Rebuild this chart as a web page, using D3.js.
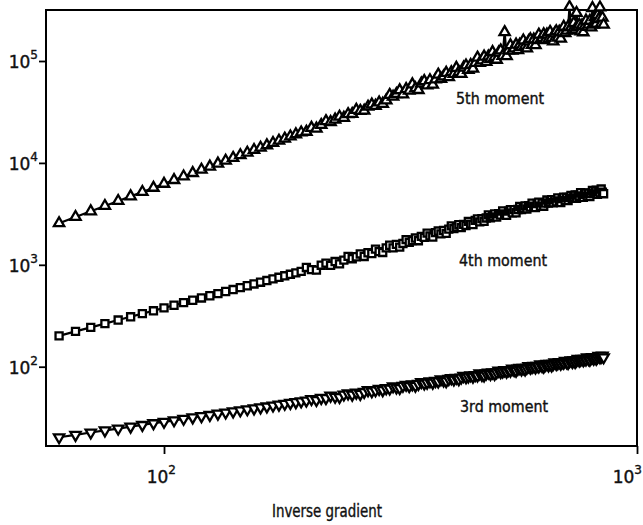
<!DOCTYPE html>
<html>
<head>
<meta charset="utf-8">
<script src="https://cdn.jsdelivr.net/npm/d3@7"></script>
<style>
  html, body { margin: 0; padding: 0; background: #fff; }
  #chart { width: 643px; height: 525px; overflow: hidden; }
  text { font-family: "DejaVu Sans", sans-serif; fill: #111; stroke: #111; stroke-width: 0.4px; }
</style>
</head>
<body>
<div id="chart"></div>
<script>
// inverse gradient (x), step 5 from 60 to 850
const inverseGradient = [
  60, 65, 70, 75, 80, 85, 90, 95, 100, 105, 110, 115, 120, 125, 130, 135, 140, 145, 150, 155,
  160, 165, 170, 175, 180, 185, 190, 195, 200, 205, 210, 215, 220, 225, 230, 235, 240, 245, 250, 255,
  260, 265, 270, 275, 280, 285, 290, 295, 300, 305, 310, 315, 320, 325, 330, 335, 340, 345, 350, 355,
  360, 365, 370, 375, 380, 385, 390, 395, 400, 405, 410, 415, 420, 425, 430, 435, 440, 445, 450, 455,
  460, 465, 470, 475, 480, 485, 490, 495, 500, 505, 510, 515, 520, 525, 530, 535, 540, 545, 550, 555,
  560, 565, 570, 575, 580, 585, 590, 595, 600, 605, 610, 615, 620, 625, 630, 635, 640, 645, 650, 655,
  660, 665, 670, 675, 680, 685, 690, 695, 700, 705, 710, 715, 720, 725, 730, 735, 740, 745, 750, 755,
  760, 765, 770, 775, 780, 785, 790, 795, 800, 805, 810, 815, 820, 825, 830, 835, 840, 845, 850
];

const thirdMoment = [
  20.3, 21.4, 22.6, 23.7, 24.7, 25.8, 26.8, 27.9, 28.8, 29.8,
  30.8, 31.8, 32.7, 33.6, 34.6, 35.5, 36.4, 37.3, 38.2, 39.0,
  39.9, 40.7, 41.6, 42.4, 43.3, 44.1, 44.9, 45.7,
  46.5, 48.2, 47.1, 49.4, 49.2, 52.0, 50.7, 50.4, 53.3, 54.6,
  53.2, 55.6, 54.1, 56.5, 58.9, 57.4, 58.7, 60.6, 58.9, 61.5,
  61.0, 64.2, 62.4, 61.8, 65.0, 66.4, 64.5, 67.1, 65.1, 67.8,
  70.6, 68.4, 69.8, 71.9, 69.7, 72.5, 71.7, 75.3, 73.1, 72.2,
  75.8, 77.2, 74.8, 77.8, 75.3, 78.3, 81.3, 78.7, 80.2, 82.4,
  79.8, 82.9, 81.9, 85.8, 83.1, 82.0, 86.0, 87.5, 84.7, 87.9,
  85.0, 88.2, 91.5, 88.5, 90.0, 92.4, 89.4, 92.7, 91.4, 95.7,
  92.6, 91.3, 95.6, 97.2, 94.0, 97.4, 94.1, 97.6, 101.1, 97.7,
  99.3, 101.9, 98.4, 102.0, 100.6, 105.2, 101.7, 100.2, 104.8, 106.5,
  102.8, 106.6, 102.9, 106.6, 110.4, 106.6, 108.3, 111.0, 107.2, 111.0,
  109.4, 114.3, 110.4, 108.7, 113.7, 115.5, 111.4, 115.3, 111.4, 115.3,
  119.3, 115.2, 116.9, 119.7, 115.6, 119.7, 117.8, 123.2, 118.9, 117.0,
  122.3, 124.0, 119.8, 123.9, 119.5, 123.7, 127.9, 123.6, 125.3, 128.3,
  123.8
];

const fourthMoment = [
  201, 222, 243, 265, 287, 309, 332, 354, 378, 401,
  425, 449, 473, 497, 522, 547, 572, 598, 623, 649,
  675, 701, 727, 754, 780, 807, 834, 861,
  942, 898, 887, 991, 1040, 987, 1077, 1020, 1113, 1211,
  1148, 1200, 1278, 1208, 1313, 1291, 1427, 1348, 1322, 1465,
  1556, 1466, 1589, 1493, 1620, 1767, 1664, 1730, 1832, 1723,
  1899, 1857, 2044, 1923, 1875, 2070, 2144, 2011, 2171, 2033,
  2238, 2409, 2262, 2342, 2473, 2317, 2496, 2433, 2669, 2502,
  2479, 2727, 2818, 2636, 2838, 2674, 2882, 3094, 2897, 2994,
  3153, 2946, 3168, 3081, 3373, 3155, 3061, 3362, 3466, 3236,
  3478, 3241, 3487, 3737, 3493, 3603, 3786, 3532, 3794, 3683,
  4024, 3759, 3643, 3992, 4112, 3764, 4038, 3758, 4037, 4320,
  4033, 4154, 4361, 4063, 4357, 4147, 4526, 4223, 4087, 4474,
  4603, 4287, 4594, 4271, 4582, 4807, 4481, 4611, 4836, 4502,
  4822, 4672, 5094, 4749, 4591, 4926, 5062, 4709, 5043, 4684,
  5021, 5364, 4997, 5138, 5384, 4908, 5255, 5086, 5542, 5162,
  4987
];

const fifthMoment = [
  2560, 2950, 3350, 3780, 4230, 4700, 5190, 5700, 6240, 6790,
  7360, 7960, 8570, 9200, 9850, 10500, 11200, 11900, 12600, 13400,
  14100, 14900, 15700, 16500, 17300, 18200, 19100, 19900,
  20200, 22100, 21700, 23600, 25700, 25200, 26600, 28400, 27700, 30100,
  30200, 33200, 32400, 32500, 35600, 37400, 36300, 39200, 38000, 41000,
  46500, 44600, 47400, 51600, 47000, 53000, 51200, 59000, 54000, 51900,
  60300, 63500, 57700, 64800, 58700, 65900, 73500, 66900, 70600, 76500,
  69300, 77600, 74700, 85700, 77900, 74600, 86200, 90500, 81900, 91500,
  84100, 95800, 107900, 96000, 101300, 110500, 97800, 110800, 105200, 122500,
  108900, 102800, 120900, 127100, 112400, 192000, 111800, 126900, 142600, 126500,
  133200, 144800, 127900, 144500, 136800, 159100, 141100, 132800, 155900, 163500,
  144100, 162800, 142800, 161800, 181400, 160600, 168700, 183000, 161300, 181900,
  163300, 193100, 167600, 155700, 186400, 196200, 169200, 193800, 166000, 191100,
  216700, 188100, 198300, 216800, 339000, 213900, 199800, 235900, 204600, 296000,
  216100, 227000, 195600, 223600, 191400, 220000, 249100, 215900, 227400, 248300,
  213800, 331000, 228000, 268900, 232900, 282000, 257700, 335000, 232800, 265800,
  227300
];

const xTicks = [100, 1000];
const yTicks = [100, 1000, 10000, 100000];
const seriesNames = ["3rd moment", "4th moment", "5th moment"];

document.addEventListener('DOMContentLoaded', () => {
    const width = 643;
    const height = 525;
    const plot = { left: 46, right: 637, top: 10, bottom: 446 };

    const svg = d3.select("#chart")
        .append("svg")
        .attr("width", width)
        .attr("height", height);

    const x = d3.scaleLog().domain([56.3, 1000]).range([plot.left, plot.right]);
    const y = d3.scaleLog().domain([16.67, 316600]).range([plot.bottom, plot.top]);

    // frame
    svg.append("rect")
        .attr("x", plot.left)
        .attr("y", plot.top)
        .attr("width", plot.right - plot.left)
        .attr("height", plot.bottom - plot.top)
        .attr("fill", "none")
        .attr("stroke", "#000")
        .attr("stroke-width", 2);

    // axes: ticks only, the 10^n labels get their own text below
    svg.append("g")
        .attr("transform", `translate(0,${plot.bottom})`)
        .call(d3.axisBottom(x).tickValues(xTicks).tickSize(8).tickSizeOuter(0).tickFormat(""))
        .call(g => g.select(".domain").remove())
        .call(g => g.selectAll(".tick line").attr("stroke", "#000").attr("stroke-width", 1.8));

    svg.append("g")
        .attr("transform", `translate(${plot.left},0)`)
        .call(d3.axisLeft(y).tickValues(yTicks).tickSize(7).tickSizeOuter(0).tickFormat(""))
        .call(g => g.select(".domain").remove())
        .call(g => g.selectAll(".tick line").attr("stroke", "#000").attr("stroke-width", 1.8));

    const xLab = svg.append("g").selectAll("text")
        .data(xTicks)
        .join("text")
        .attr("x", (d, i) => i === xTicks.length - 1 ? 642 : x(d) + 12)
        .attr("y", 483)
        .attr("text-anchor", "end")
        .style("font-size", "17px");
    xLab.append("tspan").text("10");
    xLab.append("tspan").attr("dy", -9).style("font-size", "12px").text(d => Math.round(Math.log10(d)));

    const yLab = svg.append("g").selectAll("text")
        .data(yTicks)
        .join("text")
        .attr("x", 38)
        .attr("y", d => y(d) + 7)
        .attr("text-anchor", "end")
        .style("font-size", "17px");
    yLab.append("tspan").text("10");
    yLab.append("tspan").attr("dy", -9).style("font-size", "12px").text(d => Math.round(Math.log10(d)));

    svg.append("text")
        .attr("x", 272)
        .attr("y", 517)
        .attr("textLength", 110)
        .attr("lengthAdjust", "spacingAndGlyphs")
        .style("font-size", "17px")
        .text("Inverse gradient");

    // series
    const series = [
        { name: seriesNames[0], values: thirdMoment, symbol: d3.symbolTriangle, size: 46, rotate: 180, lx: 460, ly: 412 },
        { name: seriesNames[1], values: fourthMoment, symbol: d3.symbolSquare, size: 50, rotate: 0, lx: 459, ly: 266 },
        { name: seriesNames[2], values: fifthMoment, symbol: d3.symbolTriangle, size: 46, rotate: 0, lx: 456, ly: 104 }
    ];

    const line = d3.line()
        .x(d => x(d[0]))
        .y(d => y(d[1]));

    series.forEach(s => {
        const pts = d3.zip(inverseGradient, s.values);

        svg.append("path")
            .datum(pts)
            .attr("d", line)
            .attr("fill", "none")
            .attr("stroke", "#000")
            .attr("stroke-width", 2.2);

        const sym = d3.symbol().type(s.symbol).size(s.size);
        svg.append("g")
            .selectAll("path")
            .data(pts)
            .join("path")
            .attr("transform", d => `translate(${x(d[0])},${y(d[1])}) rotate(${s.rotate})`)
            .attr("d", sym)
            .attr("fill", "#fff")
            .attr("stroke", "#000")
            .attr("stroke-width", 2.3);

        svg.append("text")
            .attr("x", s.lx)
            .attr("y", s.ly)
            .attr("textLength", 88)
            .attr("lengthAdjust", "spacingAndGlyphs")
            .style("font-size", "15px")
            .text(s.name);
    });
});
</script>
</body>
</html>
